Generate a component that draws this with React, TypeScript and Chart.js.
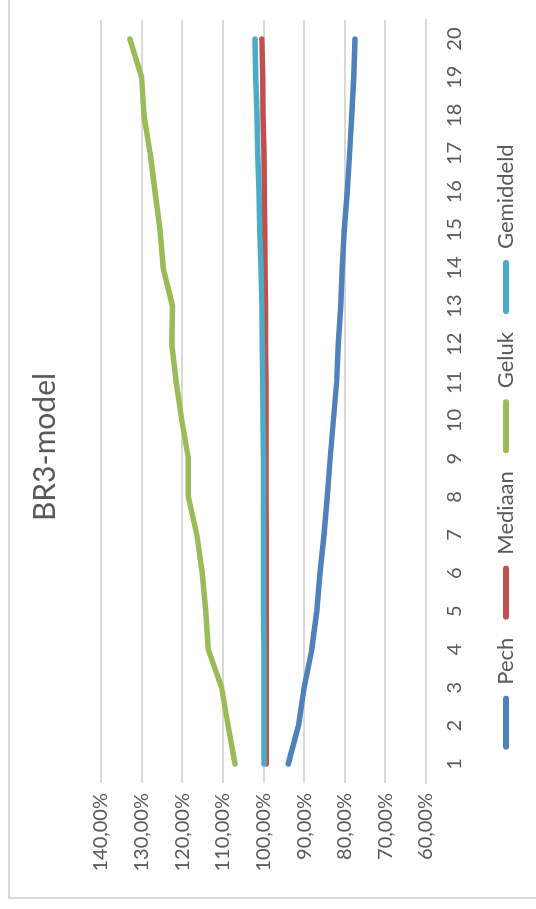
import React, { useEffect, useRef } from 'react';
import { Chart, registerables } from 'chart.js';

Chart.register(...registerables);

// ---- data ----
const categories = ['1', '2', '3', '4', '5', '6', '7', '8', '9', '10', '11', '12', '13', '14', '15', '16', '17', '18', '19', '20'];
const seriesNames = ['Pech', 'Mediaan', 'Geluk', 'Gemiddeld'];
const pech = [93.9, 91.4, 90.0, 88.1, 86.9, 86.1, 85.1, 84.3, 83.6, 82.8, 82.0, 81.6, 81.0, 80.6, 80.1, 79.4, 78.8, 78.3, 77.8, 77.5];
const mediaan = [99.3, 99.3, 99.3, 99.3, 99.3, 99.3, 99.3, 99.4, 99.4, 99.4, 99.4, 99.5, 99.5, 99.6, 99.7, 99.8, 99.9, 100.1, 100.2, 100.4];
const geluk = [107.0, 108.7, 110.3, 113.6, 114.2, 115.1, 116.4, 118.5, 118.5, 120.1, 121.5, 122.6, 122.4, 124.7, 125.5, 126.7, 127.9, 129.4, 130.0, 132.9];
const gemiddeld = [99.9, 99.9, 99.9, 99.9, 100.0, 100.0, 100.0, 100.0, 100.0, 100.1, 100.2, 100.3, 100.4, 100.6, 100.9, 101.1, 101.4, 101.6, 101.9, 102.1];
const yMin = 60;
const yMax = 140;
const yStep = 10;
const title = 'BR3-model';

const colors = ['#4F81BD', '#C0504D', '#9BBB59', '#4BACC6'];
const TEXT = '#595959';
const GRID = '#d9d9d9';
const FONT = 'Lato, "Open Sans", sans-serif';

export default function App() {
  const ref = useRef<HTMLCanvasElement>(null);

  useEffect(() => {
    const canvas = ref.current;
    if (!canvas) return;
    const values = [pech, mediaan, geluk, gemiddeld];
    const chart = new Chart(canvas, {
      type: 'line',
      data: {
        labels: categories,
        datasets: values.map((d, i) => ({
          label: seriesNames[i],
          data: d,
          borderColor: colors[i],
          backgroundColor: colors[i],
          borderWidth: 5.5,
          pointRadius: 0,
          pointHoverRadius: 0,
          borderCapStyle: 'round',
          borderJoinStyle: 'round',
          tension: 0,
          fill: false,
          order: 3 - i,
          yAxisID: 'y',
        })),
      },
      options: {
        responsive: false,
        animation: false,
        devicePixelRatio: 1,
        events: [],
        layout: { padding: { left: 11, right: 0, top: 8, bottom: 0 } },
        plugins: {
          title: {
            display: true,
            text: title,
            color: TEXT,
            font: { family: FONT, size: 30, weight: 'normal', lineHeight: 1.2 },
            padding: { top: 19, bottom: 38 },
          },
          legend: {
            position: 'bottom',
            labels: {
              color: TEXT,
              font: { family: FONT, size: 22 },
              boxWidth: 54,
              boxHeight: 6,
              padding: 18,
              useBorderRadius: true,
              borderRadius: 3,
              generateLabels: (c: any) =>
                (Chart.defaults.plugins.legend.labels.generateLabels as any)(c)
                  .map((l: any) => ({ ...l, fillStyle: l.strokeStyle, lineWidth: 0 }))
                  .sort((a: any, b: any) => a.datasetIndex - b.datasetIndex),
            },
          },
          tooltip: { enabled: false },
        },
        scales: {
          x: {
            type: 'category',
            offset: true,
            grid: { display: false, drawTicks: false },
            border: { display: true, color: GRID, width: 2 },
            ticks: { color: TEXT, font: { family: FONT, size: 20 }, padding: 17, maxRotation: 0, autoSkip: false },
            afterFit: (s: any) => { s.height = 51; },
          },
          y: {
            type: 'linear',
            position: 'left',
            min: yMin,
            max: yMax,
            ticks: {
              stepSize: yStep,
              color: TEXT,
              font: { family: FONT, size: 20 },
              padding: 10,
              callback: (v: any) => Number(v).toFixed(2).replace('.', ',') + '%',
            },
            grid: { color: GRID, lineWidth: 2, drawTicks: false },
            border: { display: false },
            afterFit: (s: any) => { s.width = 115; },
          },
          y2: {
            type: 'linear',
            position: 'right',
            display: true,
            grid: { display: false, drawTicks: false },
            border: { display: false },
            ticks: { display: false },
            afterFit: (s: any) => { s.width = 24; },
          },
        },
      } as any,
    });
    if ((document as any).fonts && (document as any).fonts.load) {
      (document as any).fonts.load('20px Lato').then(() => chart.update()).catch(() => {});
    }
    return () => chart.destroy();
  }, []);

  return (
    <div style={{ position: 'fixed', left: 0, top: 0, width: 536, height: 909, overflow: 'hidden', background: '#fff' }}>
      <div
        style={{
          position: 'absolute',
          left: 0,
          top: 0,
          width: 913,
          height: 527,
          transformOrigin: '0 0',
          transform: 'translate(0px, 909px) rotate(-90deg)',
        }}
      >
        <div
          style={{
            position: 'absolute',
            left: 10,
            top: 8,
            width: 1000,
            height: 1000,
            borderLeft: '2px solid #d9d9d9',
            borderTop: '2px solid #d9d9d9',
          }}
        />
        <canvas ref={ref} width={913} height={527} style={{ position: 'absolute', left: 0, top: 0, display: 'block' }} />
      </div>
    </div>
  );
}
